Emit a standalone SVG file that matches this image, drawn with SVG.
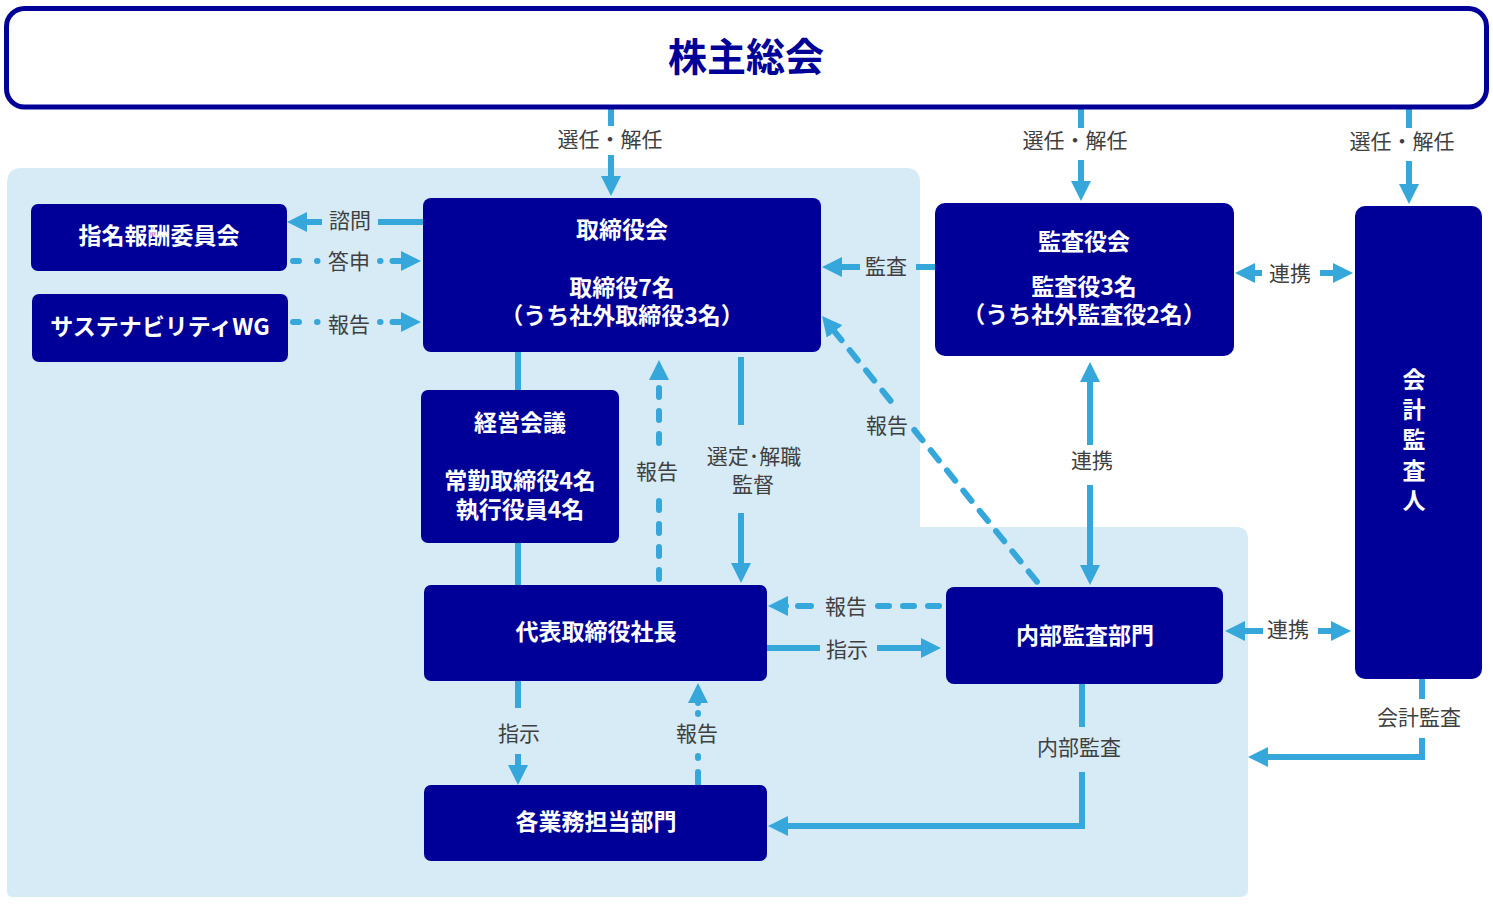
<svg xmlns="http://www.w3.org/2000/svg" width="1493" height="907" viewBox="0 0 1493 907">
<style>
.c{stroke:#35A7DB;stroke-width:6;fill:none;stroke-linejoin:miter}
.d{stroke-linecap:round}
.e{marker-end:url(#ah)}
.s{marker-start:url(#ah)}
.n{fill:#000099}
.t{font-family:"Noto Sans CJK JP","Noto Sans",sans-serif;font-weight:bold;font-size:23px;fill:#ffffff;text-anchor:middle;dominant-baseline:central}
.l{font-family:"Noto Sans CJK JP","Noto Sans",sans-serif;font-size:21px;fill:#404040;text-anchor:middle;dominant-baseline:central}
</style>
<defs>
<marker id="ah" viewBox="0 0 20 20" markerWidth="20" markerHeight="20" refX="10" refY="10" orient="auto-start-reverse" markerUnits="userSpaceOnUse">
<path d="M0,0 L20,10 L0,20 Z" fill="#35A7DB"/>
</marker>
</defs>
<rect width="1493" height="907" fill="#ffffff"/>
<path d="M7,183 Q7,168 22,168 L906,168 Q920,168 920,182 L920,527 L1236,527 Q1248,527 1248,539 L1248,889 Q1248,897 1240,897 L13,897 Q7,897 7,891 Z" fill="#D6EBF6"/>

<g id="connectors">
<line class="c" x1="611" y1="108" x2="611" y2="126"/>
<path class="c e" d="M611,155 L611,186"/>
<line class="c" x1="1081" y1="108" x2="1081" y2="128"/>
<path class="c e" d="M1081,160 L1081,191"/>
<line class="c" x1="1409" y1="108" x2="1409" y2="128"/>
<path class="c e" d="M1409,161 L1409,194"/>

<line class="c" x1="423" y1="222" x2="378" y2="222"/>
<path class="c e" d="M322,222 L297,222"/>

<path class="c d" d="M293,261 L318,261" stroke-dasharray="6 18 0.5 20"/>
<path class="c d e" d="M380,261 L411,261" stroke-dasharray="0.5 12 100"/>

<path class="c d" d="M293,322 L318,322" stroke-dasharray="6 18 0.5 20"/>
<path class="c d e" d="M380,322 L411,322" stroke-dasharray="0.5 12 100"/>

<line class="c" x1="518" y1="352" x2="518" y2="390"/>
<line class="c" x1="518" y1="543" x2="518" y2="585"/>

<path class="c d s" d="M659,370 L659,452" stroke-dasharray="9 14" stroke-dashoffset="5"/>
<path class="c d" d="M659,501 L659,585" stroke-dasharray="9 14"/>

<line class="c" x1="741" y1="357" x2="741" y2="425"/>
<path class="c e" d="M741,513 L741,573"/>

<line class="c" x1="935" y1="267" x2="916" y2="267"/>
<path class="c e" d="M860,267 L832,267"/>

<path class="c d s" d="M828.3,323.8 L891.6,402" stroke-dasharray="13 13" stroke-dashoffset="-8"/>
<path class="c d" d="M914.3,430 L1038,583" stroke-dasharray="13 13"/>

<path class="c s" d="M1090,372 L1090,445"/>
<path class="c e" d="M1090,485 L1090,575"/>

<path class="c s" d="M1245,273 L1262,273"/>
<path class="c e" d="M1320,273 L1343,273"/>

<path class="c d s" d="M778,606 L811,606" stroke-dasharray="8 12 13 100"/>
<path class="c d" d="M878,606 L944,606" stroke-dasharray="11 14"/>

<line class="c" x1="767" y1="648" x2="820" y2="648"/>
<path class="c e" d="M877,648 L931,648"/>

<path class="c s" d="M1235,631 L1263,631"/>
<path class="c e" d="M1318,631 L1341,631"/>

<line class="c" x1="518" y1="681" x2="518" y2="708"/>
<path class="c e" d="M518,754 L518,775"/>

<path class="c d s" d="M698,693 L698,714" stroke-dasharray="10 10 1 100"/>
<path class="c d" d="M698,756 L698,785" stroke-dasharray="2 14 100"/>

<line class="c" x1="1082" y1="684" x2="1082" y2="727"/>
<path class="c e" d="M1082,772 L1082,826 L778,826"/>

<line class="c" x1="1422" y1="679" x2="1422" y2="699"/>
<path class="c e" d="M1422,738 L1422,757 L1258,757"/>

<g class="lbls">
<text class="l" x="610" y="138">選任・解任</text>
<text class="l" x="1075" y="139">選任・解任</text>
<text class="l" x="1402" y="140">選任・解任</text>
<text class="l" x="350" y="219">諮問</text>
<text class="l" x="349" y="260">答申</text>
<text class="l" x="349" y="323">報告</text>
<text class="l" x="657" y="470">報告</text>
<text class="l" x="754" y="455">選定･解職<tspan x="753" dy="28">監督</tspan></text>
<text class="l" x="886" y="265">監査</text>
<text class="l" x="887" y="424">報告</text>
<text class="l" x="1092" y="459">連携</text>
<text class="l" x="1290" y="272">連携</text>
<text class="l" x="846" y="605">報告</text>
<text class="l" x="847" y="648">指示</text>
<text class="l" x="1288" y="628">連携</text>
<text class="l" x="519" y="732">指示</text>
<text class="l" x="697" y="732">報告</text>
<text class="l" x="1079" y="746">内部監査</text>
<text class="l" x="1419" y="716">会計監査</text>
</g>
</g>

<g id="shareholders">
<rect x="6.5" y="8.5" width="1480" height="98.5" rx="18" fill="#ffffff" stroke="#000099" stroke-width="5"/>
<text x="746" y="54" font-family="'Noto Sans CJK JP','Noto Sans',sans-serif" font-weight="bold" font-size="39" fill="#000099" text-anchor="middle" dominant-baseline="central">株主総会</text>
</g>
<g id="nomination">
<rect class="n" x="31" y="204" width="256" height="67" rx="7"/>
<text class="t" x="159" y="234">指名報酬委員会</text>
</g>
<g id="sustainability">
<rect class="n" x="32" y="294" width="256" height="68" rx="7"/>
<text class="t" x="160" y="325">サステナビリティWG</text>
</g>
<g id="board">
<rect class="n" x="423" y="198" width="398" height="154" rx="8"/>
<text class="t" x="622" y="228">取締役会</text>
<text class="t" x="622" y="286">取締役7名<tspan x="622" dy="28">（うち社外取締役3名）</tspan></text>
</g>
<g id="auditboard">
<rect class="n" x="935" y="203" width="299" height="153" rx="10"/>
<text class="t" x="1084" y="240">監査役会</text>
<text class="t" x="1084" y="285">監査役3名<tspan x="1084" dy="28">（うち社外監査役2名）</tspan></text>
</g>
<g id="accountant">
<rect class="n" x="1355" y="206" width="127" height="473" rx="10"/>
<text class="t" x="1414" y="378">会<tspan x="1414" dy="30">計</tspan><tspan x="1414" dy="30">監</tspan><tspan x="1414" dy="31">査</tspan><tspan x="1414" dy="30">人</tspan></text>
</g>
<g id="management">
<rect class="n" x="421" y="390" width="198" height="153" rx="7"/>
<text class="t" x="520" y="421">経営会議</text>
<text class="t" x="520" y="479">常勤取締役4名<tspan x="520" dy="29">執行役員4名</tspan></text>
</g>
<g id="president">
<rect class="n" x="424" y="585" width="343" height="96" rx="7"/>
<text class="t" x="596" y="630">代表取締役社長</text>
</g>
<g id="internalaudit">
<rect class="n" x="946" y="587" width="277" height="97" rx="8"/>
<text class="t" x="1085" y="634">内部監査部門</text>
</g>
<g id="departments">
<rect class="n" x="424" y="785" width="343" height="76" rx="7"/>
<text class="t" x="596" y="820">各業務担当部門</text>
</g>
</svg>
